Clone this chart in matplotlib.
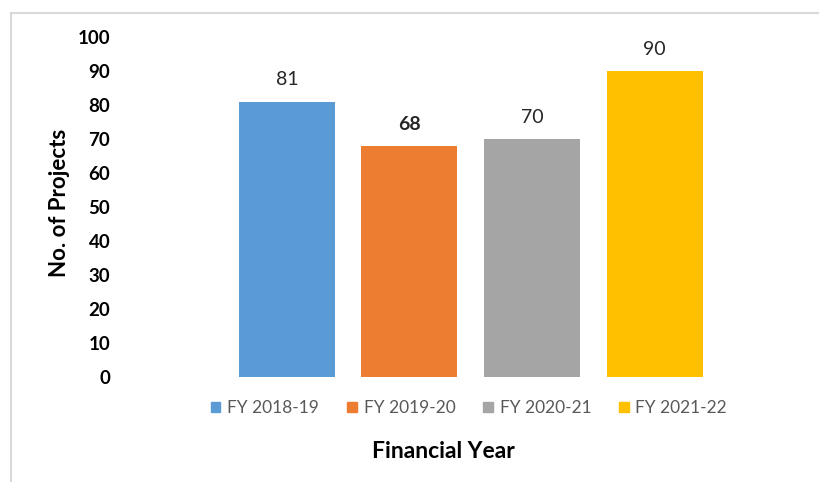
import matplotlib.pyplot as plt
from matplotlib.lines import Line2D
from matplotlib.patches import Patch

plt.rcParams['font.family'] = ['Lato', 'DejaVu Sans']

years = ['FY 2018-19', 'FY 2019-20', 'FY 2020-21', 'FY 2021-22']
projects = [81, 68, 70, 90]
colors = ['#5B9BD5', '#ED7D31', '#A5A5A5', '#FFC000']
bold_label = [False, True, False, False]

W, H = 820, 482
fig = plt.figure(figsize=(W / 100, H / 100), dpi=100)

# plot area in pixels: y 0 -> 377, y 100 -> 37
left, right, top, bottom = 120, 716, 37, 377
ax = fig.add_axes([left / W, 1 - bottom / H, (right - left) / W, (bottom - top) / H])

slot = 122.5
x0 = (left - 287) / slot
x1 = (right - 287) / slot
pos = list(range(len(years)))
bars = ax.bar(pos, projects, width=96 / slot, color=colors, label=years)
ax.set_xlim(x0, x1)
ax.set_ylim(0, 100)

for b, v, bold in zip(bars, projects, bold_label):
    ax.text(b.get_x() + b.get_width() / 2, v + 3.9, str(v), ha='center', va='bottom',
            fontsize=14, color='#262626', fontweight='bold' if bold else 'normal')

ax.set_yticks(range(0, 101, 10))
ax.set_yticklabels([str(t) for t in range(0, 101, 10)], fontsize=13.5, fontweight='bold')
ax.tick_params(axis='y', length=0, pad=7)
ax.set_xticks([])
for s in ax.spines.values():
    s.set_visible(False)

fig.text(60 / W, 1 - 203 / H, 'No. of Projects', rotation=90, ha='center', va='center',
         fontsize=16, fontweight='bold')

handles = [Patch(color=c) for c in colors]
fig.legend(handles, years, loc='center', bbox_to_anchor=(469 / W, 1 - 408 / H), ncol=4,
           frameon=False, fontsize=12.5, labelcolor='#595959', handlelength=0.55,
           handleheight=0.55, handletextpad=0.4, columnspacing=1.6)

fig.text(443 / W, 1 - 452 / H, 'Financial Year', ha='center', va='center',
         fontsize=16.5, fontweight='bold')

# outer border, only top and left edges
fig.add_artist(Line2D([11 / W, 11 / W], [0, 1 - 13 / H], color='#D9D9D9', lw=1.5))
fig.add_artist(Line2D([11 / W, 1], [1 - 13 / H, 1 - 13 / H], color='#D9D9D9', lw=1.5))

fig.savefig('out.png', dpi=100, facecolor='white')
